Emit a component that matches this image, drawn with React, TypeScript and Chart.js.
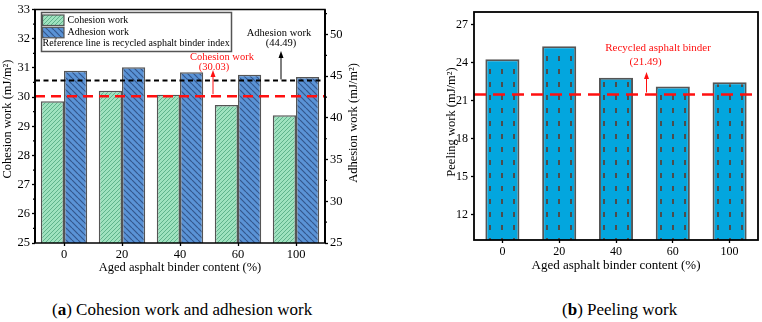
import React, { useEffect, useRef } from 'react';
import { Chart, registerables } from 'chart.js';

Chart.register(...registerables);

const FONT = "'Liberation Serif', 'Times New Roman', serif";

// Aged asphalt binder content (%)
const contentLevels = ['0', '20', '40', '60', '100'];

// Surface free energy results (mJ/m²)
const cohesionWork = [29.86, 30.22, 30.08, 29.73, 29.38];
const adhesionWork = [45.66, 46.07, 45.47, 45.18, 44.9];
const peelingWork = [24.27, 25.29, 22.8, 22.11, 22.46];

// Recycled asphalt binder reference values
const cohesionIndex = 30.03;
const adhesionIndex = 44.49;
const peelingIndex = 21.49;

// Axis ticks
const cohesionTicks = [25, 26, 27, 28, 29, 30, 31, 32, 33];
const adhesionTicks = [25, 30, 35, 40, 45, 50];
const peelingTicks = [12, 15, 18, 21, 24, 27];

const BORDER = '#555555';
const RED = '#ff1010';

function hatch(ctx: CanvasRenderingContext2D, bg: string, fg: string, size: number, dir: 1 | -1, lw: number) {
  const c = document.createElement('canvas');
  c.width = size;
  c.height = size;
  const g = c.getContext('2d')!;
  g.fillStyle = bg;
  g.fillRect(0, 0, size, size);
  g.strokeStyle = fg;
  g.lineWidth = lw;
  g.beginPath();
  for (const o of [-size, 0, size]) {
    if (dir === 1) {
      g.moveTo(o, size);
      g.lineTo(o + size, 0);
    } else {
      g.moveTo(o, 0);
      g.lineTo(o + size, size);
    }
  }
  g.stroke();
  return ctx.createPattern(c, 'repeat')!;
}

// Cyan fill with short vertical dashes; the tile is shifted so every bar starts its columns at the same offset
function dashFill(ctx: CanvasRenderingContext2D) {
  const c = document.createElement('canvas');
  c.width = 12;
  c.height = 13;
  const g = c.getContext('2d')!;
  g.fillStyle = '#03a6de';
  g.fillRect(0, 0, 12, 13);
  g.fillStyle = '#4d4d4d';
  g.fillRect(4, 4, 2, 5);
  const cache = new Map<number, CanvasPattern>();
  return (context: any) => {
    const chart = context.chart;
    const meta = chart.getDatasetMeta(context.datasetIndex);
    const bar = meta && meta.data ? meta.data[context.dataIndex] : null;
    const left = bar && Number.isFinite(bar.x) && Number.isFinite(bar.width) ? Math.round(bar.x - bar.width / 2) : 0;
    let p = cache.get(left);
    if (!p) {
      p = ctx.createPattern(c, 'repeat')!;
      p.setTransform(new DOMMatrix().translate(left, 0));
      cache.set(left, p);
    }
    return p;
  };
}

function arrowUp(ctx: CanvasRenderingContext2D, x: number, y0: number, y1: number, color: string) {
  ctx.save();
  ctx.setLineDash([]);
  ctx.strokeStyle = color;
  ctx.fillStyle = color;
  ctx.lineWidth = 1;
  ctx.beginPath();
  ctx.moveTo(x, y0);
  ctx.lineTo(x, y1 + 5);
  ctx.stroke();
  ctx.beginPath();
  ctx.moveTo(x, y1);
  ctx.lineTo(x - 2.5, y1 + 7);
  ctx.lineTo(x + 2.5, y1 + 7);
  ctx.closePath();
  ctx.fill();
  ctx.restore();
}

function hLine(ctx: CanvasRenderingContext2D, x0: number, x1: number, y: number, color: string, lw: number, dash: number[]) {
  ctx.save();
  ctx.strokeStyle = color;
  ctx.lineWidth = lw;
  ctx.setLineDash(dash);
  ctx.beginPath();
  ctx.moveTo(x0, y);
  ctx.lineTo(x1, y);
  ctx.stroke();
  ctx.restore();
}

function verticalTitle(ctx: CanvasRenderingContext2D, text: string, x: number, y: number, size: number) {
  ctx.save();
  ctx.translate(x, y);
  ctx.rotate(-Math.PI / 2);
  ctx.font = `${size}px ${FONT}`;
  ctx.fillStyle = '#000';
  ctx.textAlign = 'center';
  ctx.textBaseline = 'middle';
  ctx.fillText(text, 0, 0);
  ctx.restore();
}

function minorTicks(ctx: CanvasRenderingContext2D, scale: any, values: number[], side: 'left' | 'right', x: number) {
  ctx.save();
  ctx.strokeStyle = '#000';
  ctx.lineWidth = 1.2;
  ctx.beginPath();
  for (const v of values) {
    const py = scale.getPixelForValue(v);
    ctx.moveTo(x, py);
    ctx.lineTo(side === 'left' ? x - 2 : x + 2, py);
  }
  ctx.stroke();
  ctx.restore();
}

function tickOptions(ticks: number[], width: number, labelPad: number, size: number) {
  return {
    afterBuildTicks: (axis: any) => {
      axis.ticks = ticks.map((v) => ({ value: v }));
    },
    afterFit: (axis: any) => {
      axis.width = width;
    },
    grid: { display: true, drawOnChartArea: false, drawTicks: true, tickLength: 3, tickColor: '#000', tickWidth: 1.3 },
    border: { display: false },
    ticks: { padding: labelPad, color: '#000', font: { family: FONT, size } },
  };
}

const cohesionPlugin = {
  id: 'cohesionDecor',
  afterDatasetsDraw(chart: any) {
    const { ctx, chartArea: a, scales } = chart;
    const y = scales.y;
    const y1 = scales.y1;
    ctx.save();

    // minor ticks between labelled values
    minorTicks(ctx, y, cohesionTicks.slice(0, -1).map((v) => v + 0.5), 'left', a.left);
    minorTicks(ctx, y1, adhesionTicks.map((v) => v + 2.5), 'right', a.right);

    // reference lines
    const by = y1.getPixelForValue(adhesionIndex);
    const ry = y.getPixelForValue(cohesionIndex);
    hLine(ctx, a.left, a.right, by, '#000', 2, [5, 3.5]);
    hLine(ctx, a.left, a.right, ry, RED, 2.5, [10, 6]);

    // frame
    ctx.setLineDash([]);
    ctx.strokeStyle = '#000';
    ctx.lineWidth = 1.5;
    ctx.strokeRect(a.left, a.top, a.right - a.left, a.bottom - a.top);
    ctx.lineWidth = 2;
    ctx.beginPath();
    ctx.moveTo(a.left, a.top);
    ctx.lineTo(a.left, a.bottom);
    ctx.moveTo(a.right, a.top);
    ctx.lineTo(a.right, a.bottom);
    ctx.stroke();

    // axis titles
    verticalTitle(ctx, 'Cohesion work (mJ/m²)', 8, 119, 12.5);
    verticalTitle(ctx, 'Adhesion work (mJ/m²)', 354, 123, 12.5);

    // annotations
    arrowUp(ctx, 281, by - 1, 51, '#000');
    arrowUp(ctx, 213, ry - 2, 70, RED);
    ctx.font = `10.5px ${FONT}`;
    ctx.textAlign = 'center';
    ctx.textBaseline = 'middle';
    ctx.fillStyle = '#000';
    ctx.fillText('Adhesion work', 279, 33);
    ctx.fillText('(44.49)', 281, 43);
    ctx.fillStyle = RED;
    ctx.fillText('Cohesion work', 222, 57);
    ctx.fillText('(30.03)', 214, 67);

    // legend
    const lx = 41.5;
    const ly = 12.5;
    ctx.font = `10px ${FONT}`;
    ctx.fillStyle = '#fff';
    ctx.fillRect(lx, ly, 190, 39);
    ctx.strokeStyle = BORDER;
    ctx.lineWidth = 1.5;
    ctx.strokeRect(lx, ly, 190, 39);
    const ds = chart.data.datasets;
    const rows = [15, 27.3];
    rows.forEach((ty: number, i: number) => {
      ctx.fillStyle = ds[i].backgroundColor;
      ctx.fillRect(lx + 1, ty, 21.5, 10.5);
      ctx.strokeStyle = BORDER;
      ctx.lineWidth = 1.2;
      ctx.strokeRect(lx + 1, ty, 21.5, 10.5);
      ctx.fillStyle = '#000';
      ctx.textAlign = 'left';
      ctx.fillText(ds[i].label, lx + 26, ty + 5.5);
    });
    ctx.fillStyle = '#000';
    ctx.textAlign = 'left';
    ctx.fillText('Reference line is recycled asphalt binder index', lx + 1, 43.5);
    ctx.restore();
  },
};

const peelingPlugin = {
  id: 'peelingDecor',
  afterDatasetsDraw(chart: any) {
    const { ctx, chartArea: a, scales } = chart;
    const ry = scales.y.getPixelForValue(peelingIndex);
    ctx.save();
    hLine(ctx, a.left, a.right, ry, RED, 2.5, [12, 7]);
    ctx.setLineDash([]);
    ctx.strokeStyle = '#000';
    ctx.lineWidth = 1.8;
    ctx.strokeRect(a.left, a.top, a.right - a.left, a.bottom - a.top);
    verticalTitle(ctx, 'Peeling work (mJ/m²)', 72, 122, 12.5);
    arrowUp(ctx, 266.5, ry - 2, 72, RED);
    ctx.font = `11px ${FONT}`;
    ctx.textAlign = 'center';
    ctx.textBaseline = 'middle';
    ctx.fillStyle = RED;
    ctx.fillText('Recycled asphalt binder', 278, 48.5);
    ctx.fillText('(21.49)', 265.5, 62);
    ctx.restore();
  },
};

function CohesionChart() {
  const ref = useRef<HTMLCanvasElement>(null);
  useEffect(() => {
    const canvas = ref.current!;
    const ctx = canvas.getContext('2d')!;
    const green = hatch(ctx, '#9fe2bf', '#5fb38c', 4, 1, 1);
    const blue = hatch(ctx, '#5a93d6', '#34578c', 6, -1, 1.2);
    const chart = new Chart(canvas, {
      type: 'bar',
      data: {
        labels: contentLevels,
        datasets: [
          { label: 'Cohesion work', data: cohesionWork, yAxisID: 'y', backgroundColor: green, borderColor: BORDER, borderWidth: 1.5, categoryPercentage: 0.8, barPercentage: 1 },
          { label: 'Adhesion work', data: adhesionWork, yAxisID: 'y1', backgroundColor: blue, borderColor: BORDER, borderWidth: 1.5, categoryPercentage: 0.8, barPercentage: 1 },
        ],
      },
      options: {
        responsive: false,
        animation: false,
        layout: { padding: { top: 9, left: 0, right: 0, bottom: 0 } },
        plugins: { legend: { display: false }, tooltip: { enabled: false } },
        scales: {
          x: {
            afterFit: (axis: any) => {
              axis.height = 37;
            },
            grid: { display: true, offset: false, drawOnChartArea: false, drawTicks: true, tickLength: 3, tickColor: '#000', tickWidth: 1.3 },
            border: { display: false },
            ticks: { padding: 1, color: '#000', font: { family: FONT, size: 12.5 } },
            title: { display: true, text: 'Aged asphalt binder content (%)', color: '#000', font: { family: FONT, size: 12.5 }, padding: { top: 0, bottom: 5 } },
          },
          y: {
            position: 'left',
            min: 25,
            max: 33,
            ...tickOptions(cohesionTicks, 35, 2, 12.5),
          },
          y1: {
            position: 'right',
            min: 25,
            max: 53,
            ...tickOptions(adhesionTicks, 55, 2, 12.5),
          },
        },
      } as any,
      plugins: [cohesionPlugin],
    });
    return () => chart.destroy();
  }, []);
  return <canvas ref={ref} width={380} height={280} style={{ position: 'absolute', left: 0, top: 0, width: 380, height: 280 }} />;
}

function PeelingChart() {
  const ref = useRef<HTMLCanvasElement>(null);
  useEffect(() => {
    const canvas = ref.current!;
    const ctx = canvas.getContext('2d')!;
    const cyan = dashFill(ctx);
    const chart = new Chart(canvas, {
      type: 'bar',
      data: {
        labels: contentLevels,
        datasets: [
          { label: 'Peeling work', data: peelingWork, backgroundColor: cyan, borderColor: BORDER, borderWidth: 2, categoryPercentage: 1, barPercentage: 0.6 },
        ],
      },
      options: {
        responsive: false,
        animation: false,
        layout: { padding: { top: 12, left: 0, right: 4, bottom: 0 } },
        plugins: { legend: { display: false }, tooltip: { enabled: false } },
        scales: {
          x: {
            afterFit: (axis: any) => {
              axis.height = 40;
            },
            grid: { display: true, offset: false, drawOnChartArea: false, drawTicks: true, tickLength: 3, tickColor: '#000', tickWidth: 1.3 },
            border: { display: false },
            ticks: { padding: 2, color: '#000', font: { family: FONT, size: 12 } },
            title: { display: true, text: 'Aged asphalt binder content (%)', color: '#000', font: { family: FONT, size: 13 }, padding: { top: 0, bottom: 7 } },
          },
          y: {
            position: 'left',
            min: 10,
            max: 28,
            ...tickOptions(peelingTicks, 94, 3, 12),
          },
        },
      } as any,
      plugins: [peelingPlugin],
    });
    // second pass so the dash columns line up with each bar's final position
    chart.update('none');
    return () => chart.destroy();
  }, []);
  return <canvas ref={ref} width={382} height={280} style={{ position: 'absolute', left: 380, top: 0, width: 382, height: 280 }} />;
}

const captionStyle: React.CSSProperties = {
  position: 'absolute',
  top: 300,
  fontFamily: FONT,
  fontSize: 17,
  lineHeight: '20px',
  color: '#000',
  whiteSpace: 'nowrap',
};

export default function App() {
  return (
    <div style={{ position: 'absolute', left: 0, top: 0, width: 762, height: 322, background: '#fff', overflow: 'hidden' }}>
      <CohesionChart />
      <PeelingChart />
      <div style={{ ...captionStyle, left: 52 }}>
        (<b>a</b>) Cohesion work and adhesion work
      </div>
      <div style={{ ...captionStyle, left: 562 }}>
        (<b>b</b>) Peeling work
      </div>
    </div>
  );
}
